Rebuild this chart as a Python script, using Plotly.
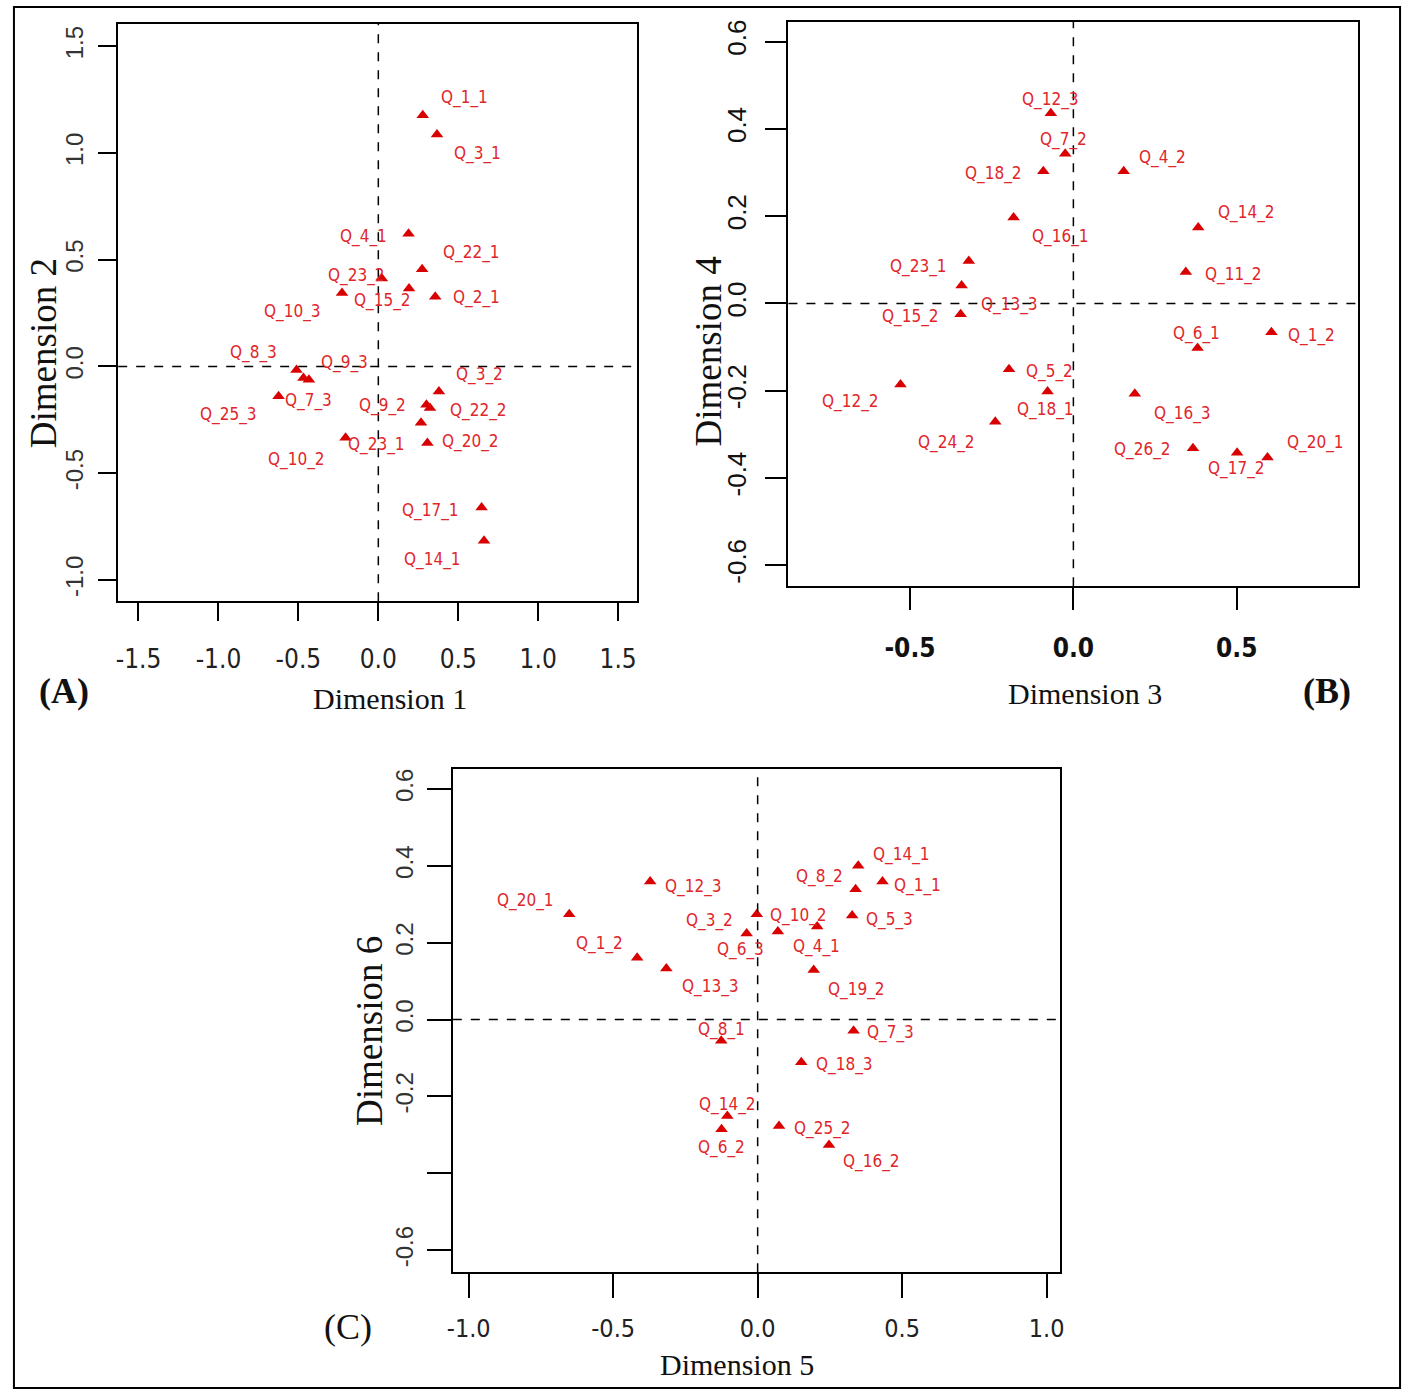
import plotly.graph_objects as go

# ---------------- DATA ----------------
# Panel A: Dimension 1 vs Dimension 2
names_a = ["Q_1_1", "Q_3_1", "Q_4_1", "Q_22_1", "Q_23_2", "Q_15_2", "Q_2_1", "Q_10_3",
           "Q_8_3", "Q_9_3", "Q_25_3", "Q_7_3", "Q_3_2", "Q_9_2", "Q_22_2", "Q_23_1",
           "Q_20_2", "Q_10_2", "Q_17_1", "Q_14_1"]
dim1 = [0.278, 0.367, 0.189, 0.274, 0.022, 0.192, 0.356, -0.227,
        -0.512, -0.434, -0.468, -0.624, 0.379, 0.301, 0.323, 0.267,
        0.307, -0.205, 0.646, 0.661]
dim2 = [1.177, 1.086, 0.621, 0.455, 0.412, 0.365, 0.326, 0.344,
        -0.016, -0.062, -0.054, -0.140, -0.117, -0.179, -0.194, -0.264,
        -0.358, -0.334, -0.661, -0.816]

# Panel B: Dimension 3 vs Dimension 4
names_b = ["Q_12_3", "Q_7_2", "Q_18_2", "Q_4_2", "Q_16_1", "Q_14_2", "Q_23_1", "Q_11_2",
           "Q_13_3", "Q_15_2", "Q_6_1", "Q_1_2", "Q_5_2", "Q_12_2", "Q_18_1", "Q_16_3",
           "Q_24_2", "Q_26_2", "Q_17_2", "Q_20_1"]
dim3 = [-0.069, -0.025, -0.092, 0.154, -0.183, 0.382, -0.320, 0.344,
        -0.342, -0.345, 0.380, 0.606, -0.197, -0.529, -0.079, 0.188,
        -0.239, 0.366, 0.501, 0.594]
dim4 = [0.436, 0.343, 0.303, 0.303, 0.197, 0.174, 0.097, 0.072,
        0.041, -0.025, -0.102, -0.066, -0.151, -0.186, -0.202, -0.207,
        -0.271, -0.332, -0.342, -0.353]

# Panel C: Dimension 5 vs Dimension 6
names_c = ["Q_14_1", "Q_8_2", "Q_1_1", "Q_12_3", "Q_20_1", "Q_3_2", "Q_5_3", "Q_4_1",
           "Q_10_2", "Q_6_3", "Q_1_2", "Q_13_3", "Q_19_2", "Q_8_1", "Q_7_3", "Q_18_3",
           "Q_14_2", "Q_6_2", "Q_25_2", "Q_16_2"]
dim5 = [0.348, 0.339, 0.432, -0.372, -0.652, -0.003, 0.327, 0.206,
        0.070, -0.038, -0.417, -0.316, 0.194, -0.126, 0.332, 0.151,
        -0.105, -0.125, 0.074, 0.247]
dim6 = [0.400, 0.339, 0.359, 0.359, 0.274, 0.274, 0.271, 0.242,
        0.229, 0.224, 0.161, 0.133, 0.129, -0.055, -0.029, -0.111,
        -0.251, -0.285, -0.277, -0.326]

# tick values / labels
ticks_a_x = [-1.5, -1.0, -0.5, 0.0, 0.5, 1.0, 1.5]
ticks_a_y = [-1.0, -0.5, 0.0, 0.5, 1.0, 1.5]
ticks_b_x = [-0.5, 0.0, 0.5]
ticks_b_y = [-0.6, -0.4, -0.2, 0.0, 0.2, 0.4, 0.6]
ticks_c_x = [-1.0, -0.5, 0.0, 0.5, 1.0]
ticks_c_y = [-0.6, -0.4, -0.2, 0.0, 0.2, 0.4, 0.6]
ticktext_c_y = ["-0.6", "", "-0.2", "0.0", "0.2", "0.4", "0.6"]

# ---------------- LABEL PLACEMENT (pixel offsets, layout only) ----------------
off_a = {"Q_1_1": (42, 18), "Q_3_1": (41, -19), "Q_4_1": (-45, -3), "Q_22_1": (49, 17),
         "Q_23_2": (-25, 3), "Q_15_2": (-27, -12), "Q_2_1": (41, -1), "Q_10_3": (-50, -18),
         "Q_8_3": (-43, 17), "Q_9_3": (36, 17), "Q_25_3": (-75, -37), "Q_7_3": (30, -4),
         "Q_3_2": (41, 17), "Q_9_2": (-44, -1), "Q_22_2": (49, -3), "Q_23_1": (-45, -22),
         "Q_20_2": (43, 1), "Q_10_2": (-49, -22), "Q_17_1": (-51, -3), "Q_14_1": (-52, -19)}
off_b = {"Q_12_3": (0, 14), "Q_7_2": (-2, 14), "Q_18_2": (-50, -2), "Q_4_2": (39, 14),
         "Q_16_1": (47, -19), "Q_14_2": (48, 15), "Q_23_1": (-50, -5), "Q_11_2": (48, -3),
         "Q_13_3": (48, -19), "Q_15_2": (-50, -2), "Q_6_1": (-1, 14), "Q_1_2": (40, -3),
         "Q_5_2": (40, -2), "Q_12_2": (-50, -17), "Q_18_1": (-2, -18), "Q_16_3": (48, -20),
         "Q_24_2": (-49, -21), "Q_26_2": (-50, -1), "Q_17_2": (-1, -16), "Q_20_1": (48, 15)}
off_c = {"Q_14_1": (43, 11), "Q_8_2": (-36, 13), "Q_1_1": (35, -4), "Q_12_3": (43, -5),
         "Q_20_1": (-44, 14), "Q_3_2": (-47, -6), "Q_5_3": (37, -4), "Q_4_1": (-1, -20),
         "Q_10_2": (21, 16), "Q_6_3": (-6, -16), "Q_1_2": (-38, 14), "Q_13_3": (44, -18),
         "Q_19_2": (43, -20), "Q_8_1": (0, 11), "Q_7_3": (37, -2), "Q_18_3": (43, -2),
         "Q_14_2": (0, 12), "Q_6_2": (0, -18), "Q_25_2": (43, -2), "Q_16_2": (42, -17)}

W, H = 1411, 1392
MARK = "#d80000"
TXT = "#e0262a"
NARROW = "Liberation Sans Narrow, Arial Narrow, DejaVu Sans Condensed, sans-serif"
SANS = "Liberation Sans, Arial, sans-serif"
SERIF = "Liberation Serif, Times New Roman, serif"


def px_dom_x(a, b):
    return [a / W, b / W]


def px_dom_y(top, bottom):
    return [1 - bottom / H, 1 - top / H]


def fmt(v):
    return f"{v:.1f}"


fig = go.Figure()

panels = [
    (dim1, dim2, names_a, off_a, ""),
    (dim3, dim4, names_b, off_b, "2"),
    (dim5, dim6, names_c, off_c, "3"),
]

annotations = []
shapes = []
for xs, ys, names, offs, s in panels:
    xa, ya = "x" + s, "y" + s
    fig.add_trace(go.Scatter(
        x=xs, y=ys, mode="markers", xaxis=xa, yaxis=ya,
        marker=dict(symbol="triangle-up", size=11, color=MARK, line=dict(width=0)),
        showlegend=False, hoverinfo="text", text=names))
    for x, y, n in zip(xs, ys, names):
        dx, dy = offs[n]
        annotations.append(dict(x=x, y=y, xref=xa, yref=ya, text=n, showarrow=False,
                                xshift=dx, yshift=dy,
                                font=dict(family=NARROW, size=17, color=TXT)))
    shapes.append(dict(type="line", xref=xa, yref=ya + " domain", x0=0, x1=0, y0=0, y1=1,
                       line=dict(color="black", width=1.5, dash="dash")))
    shapes.append(dict(type="line", xref=xa + " domain", yref=ya, x0=0, x1=1, y0=0, y1=0,
                       line=dict(color="black", width=1.5, dash="dash")))

# outer frame
shapes.append(dict(type="rect", xref="paper", yref="paper",
                   x0=8 / W, x1=1404 / W, y0=1 - 1388 / H, y1=1 - 5 / H,
                   line=dict(color="black", width=2), fillcolor="rgba(0,0,0,0)"))


def axis(dom, rng, tv, tt, ticklen, font, anchor, standoff, angle=0):
    return dict(domain=dom, range=rng, tickmode="array", tickvals=tv, ticktext=tt,
                ticks="outside", ticklen=ticklen, tickwidth=1.5, tickcolor="black",
                showline=True, linecolor="black", linewidth=1.5, mirror=True,
                showgrid=False, zeroline=False, anchor=anchor, tickfont=font,
                ticklabelstandoff=standoff, tickangle=angle, fixedrange=True)


fig.update_layout(
    width=W, height=H, margin=dict(l=0, r=0, t=0, b=0),
    paper_bgcolor="white", plot_bgcolor="white",
    xaxis=axis(px_dom_x(113, 636), [-1.627, 1.621], ticks_a_x, [fmt(v) for v in ticks_a_x], 18,
               dict(family=NARROW, size=26, color="#222"), "y", 16),
    yaxis=axis(px_dom_y(22, 600), [-1.099, 1.604], ticks_a_y, [fmt(v) for v in ticks_a_y], 18,
               dict(family=SANS, size=24, color="#333"), "x", 6, -90),
    xaxis2=axis(px_dom_x(788, 1362), [-0.872, 0.872], ticks_b_x, [fmt(v) for v in ticks_b_x], 22,
                dict(family=NARROW, size=26, color="#111", weight="bold"), "y2", 16),
    yaxis2=axis(px_dom_y(20, 585), [-0.648, 0.645], ticks_b_y, [fmt(v) for v in ticks_b_y], 22,
                dict(family=SANS, size=26, color="#111"), "x2", 8, -90),
    xaxis3=axis(px_dom_x(450, 1062), [-1.055, 1.048], ticks_c_x, [fmt(v) for v in ticks_c_x], 24,
                dict(family=NARROW, size=25, color="#222"), "y3", 9),
    yaxis3=axis(px_dom_y(768, 1272), [-0.657, 0.652], ticks_c_y, ticktext_c_y, 24,
                dict(family=SANS, size=24, color="#333"), "x3", 4, -90),
    shapes=shapes,
)

titles = [
    ("Dimension 1", 387, 698, 0, 30),
    ("Dimension 2", 38, 352, -90, 37),
    ("Dimension 3", 1087, 692, 0, 30),
    ("Dimension 4", 708, 350, -90, 37),
    ("Dimension 5", 736, 1364, 0, 30),
    ("Dimension 6", 366, 1030, -90, 37),
]
for t, x, y, ang, sz in titles:
    annotations.append(dict(text=t, x=x / W, y=1 - y / H, xref="paper", yref="paper",
                            showarrow=False, textangle=ang, xanchor="center", yanchor="middle",
                            font=dict(family=SERIF, size=sz, color="#111")))
letters = [("<b>(A)</b>", 58, 690), ("<b>(B)</b>", 1330, 690), ("(C)", 344, 1327)]
for t, x, y in letters:
    annotations.append(dict(text=t, x=x / W, y=1 - y / H, xref="paper", yref="paper",
                            showarrow=False, xanchor="center", yanchor="middle",
                            font=dict(family=SERIF, size=36, color="#111")))

fig.update_layout(annotations=annotations)
fig.write_html("out.html", config={"displayModeBar": False},
               post_script="document.body.style.margin='0';document.body.style.overflow='hidden';")
